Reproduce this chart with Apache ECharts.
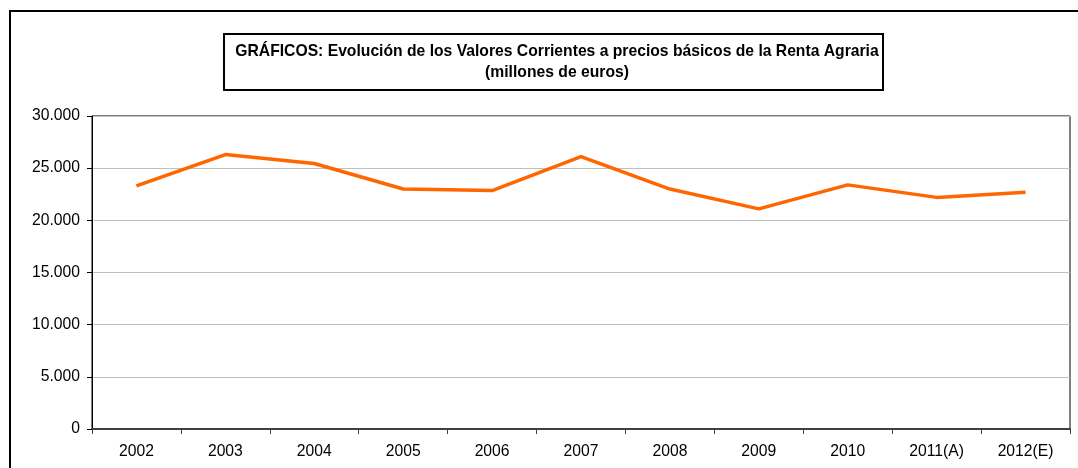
<!DOCTYPE html>
<html>
<head>
<meta charset="utf-8">
<script src="https://cdn.jsdelivr.net/npm/echarts@6/dist/echarts.min.js"></script>
<style>
  html, body { margin: 0; padding: 0; background: #fff; }
  #chart { width: 1078px; height: 468px; }
</style>
</head>
<body>
<div id="chart"></div>
<script>
// Renta Agraria, valores corrientes (millones de euros)
var years = ["2002", "2003", "2004", "2005", "2006", "2007", "2008", "2009", "2010", "2011(A)", "2012(E)"];
var renta = [23300, 26300, 25450, 23000, 22850, 26100, 23000, 21100, 23400, 22200, 22700];

var FONT = "'Liberation Sans', Arial, sans-serif";
var FS = 15.7;

// 30000 -> "30.000"
function fmtMiles(v) {
  return String(v).replace(/\B(?=(\d{3})+(?!\d))/g, ".");
}

var chart = echarts.init(document.getElementById("chart"), null, { renderer: "canvas" });

chart.setOption({
  animation: false,
  backgroundColor: "#fff",
  title: {
    text: "GRÁFICOS: Evolución de los Valores Corrientes a precios básicos de la Renta Agraria\n(millones de euros)",
    left: 545,
    top: 34,
    textAlign: "center",
    padding: [7, 5, 7, 12],
    borderColor: "#000",
    borderWidth: 2,
    textStyle: {
      fontFamily: FONT,
      fontSize: FS,
      fontWeight: "bold",
      color: "#000",
      lineHeight: 21
    }
  },
  graphic: [
    {
      type: "rect",
      shape: { x: 10, y: 11, width: 1100, height: 500 },
      style: { fill: null, stroke: "#000", lineWidth: 2 },
      silent: true
    }
  ],
  grid: {
    left: 92,
    top: 116,
    right: 8,
    bottom: 39,
    show: true,
    borderColor: "#000",
    borderWidth: 1
  },
  xAxis: {
    type: "category",
    data: years,
    boundaryGap: true,
    axisLine: { lineStyle: { color: "#404040", width: 2 } },
    axisTick: { show: true, length: 5, lineStyle: { color: "#404040" } },
    axisLabel: { fontFamily: FONT, fontSize: FS, color: "#000", margin: 15 },
    splitLine: { show: false }
  },
  yAxis: {
    type: "value",
    min: 0,
    max: 30000,
    interval: 5000,
    axisLine: { show: true, lineStyle: { color: "#000", width: 1 } },
    axisTick: { show: true, length: 5, lineStyle: { color: "#000" } },
    axisLabel: {
      fontFamily: FONT,
      fontSize: FS,
      color: "#000",
      margin: 12,
      formatter: fmtMiles
    },
    splitLine: { show: true, lineStyle: { color: "#c0c0c0", width: 1 } }
  },
  series: [
    {
      type: "line",
      data: renta,
      symbol: "none",
      lineStyle: { color: "#ff6600", width: 3.5 },
      itemStyle: { color: "#ff6600" }
    }
  ]
});
</script>
</body>
</html>
